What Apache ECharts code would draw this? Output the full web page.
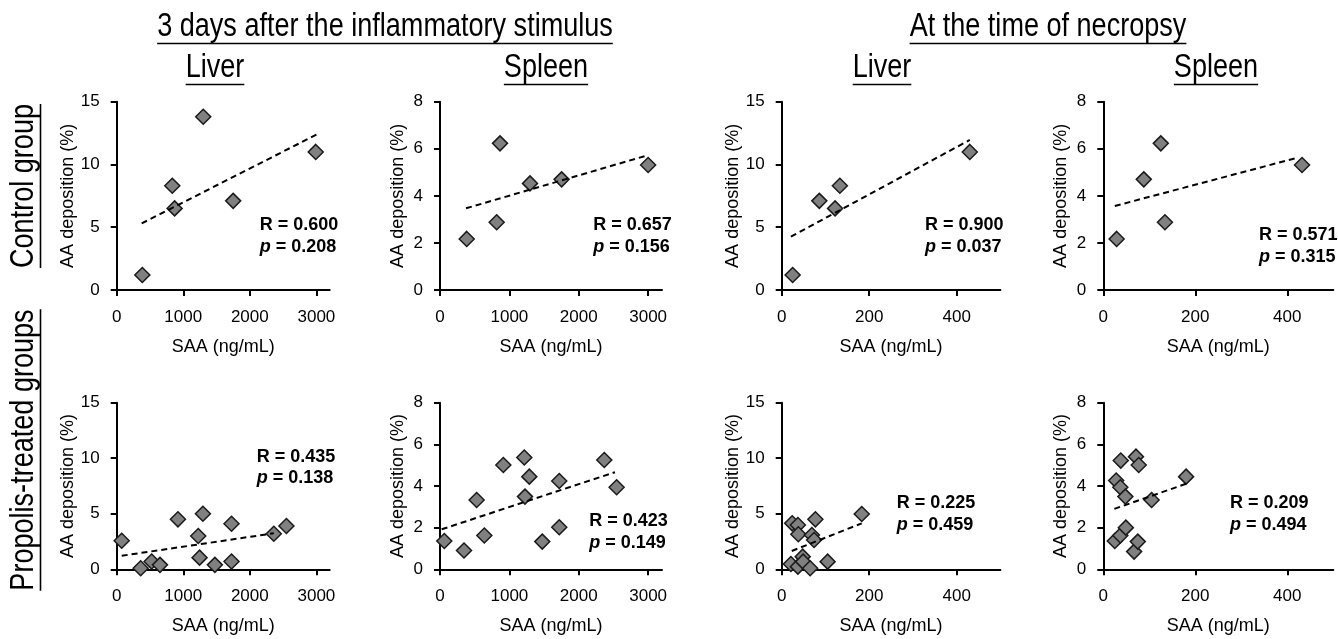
<!DOCTYPE html>
<html>
<head>
<meta charset="utf-8">
<script src="https://cdn.jsdelivr.net/npm/echarts@6/dist/echarts.min.js"></script>
<style>
  html, body { margin: 0; background: #fff; }
  #chart { width: 1338px; height: 639px; }
</style>
</head>
<body>
<div id="chart"></div>
<script>
// SAA (ng/mL) vs AA deposition (%) -- control group
const ctl3dLiverX = [385, 835, 870, 1300, 1750, 2990];
const ctl3dLiverY = [1.2, 8.3, 6.5, 13.8, 7.1, 11.0];
const ctl3dSpleenX = [385, 817, 865, 1297, 1753, 3000];
const ctl3dSpleenY = [2.17, 2.88, 6.23, 4.53, 4.7, 5.31];
const ctlNecLiverX = [25, 86, 122, 133, 430];
const ctlNecLiverY = [1.2, 7.1, 6.5, 8.3, 11.0];
const ctlNecSpleenX = [29, 88, 125, 134, 432];
const ctlNecSpleenY = [2.17, 4.7, 6.23, 2.88, 5.31];

// propolis-treated groups
const pro3dLiverX = [75, 360, 525, 650, 920, 1225, 1245, 1295, 1475, 1725, 1725, 2360, 2550];
const pro3dLiverY = [2.57, 0.1, 0.7, 0.4, 4.5, 3.0, 1.05, 5.0, 0.4, 4.1, 0.7, 3.2, 3.9];
const pro3dSpleenX = [62, 346, 528, 639, 913, 1215, 1225, 1287, 1474, 1719, 1719, 2368, 2546];
const pro3dSpleenY = [1.36, 0.9, 3.33, 1.62, 5.01, 5.37, 3.49, 4.45, 1.33, 4.24, 2.02, 5.25, 3.94];
const proNecLiverX = [24, 37, 38, 21, 37, 48, 49, 65, 69, 74, 77, 105, 183];
const proNecLiverY = [4.14, 3.99, 3.15, 0.48, 0.24, 1.14, 0.69, 0.09, 3.09, 2.64, 4.5, 0.69, 4.98];
const proNecSpleenX = [28, 38, 37, 48, 25, 37, 49, 67, 71, 77, 75, 105, 180];
const proNecSpleenY = [4.26, 5.22, 3.94, 3.49, 1.36, 1.62, 2.0, 0.85, 5.41, 5.01, 1.33, 3.33, 4.45];

// trend line end points [x1, y1, x2, y2]
const trendLines = [
  [375, 5.3, 3010, 12.4],
  [375, 3.47, 3000, 5.73],
  [21, 4.25, 430, 11.95],
  [25, 3.57, 424, 5.63],
  [75, 1.22, 2360, 3.24],
  [24, 1.92, 2522, 4.66],
  [23, 1.65, 183, 4.14],
  [24, 2.9, 183, 4.13]
];
const rValues = ['0.600', '0.657', '0.900', '0.571', '0.435', '0.423', '0.225', '0.209'];
const pValues = ['0.208', '0.156', '0.037', '0.315', '0.138', '0.149', '0.459', '0.494'];

const xTickLabels = [[0, 1000, 2000, 3000], [0, 1000, 2000, 3000], [0, 200, 400], [0, 200, 400]];
const xMax = [3200, 3200, 500, 500];
const yMax = [15, 8, 15, 8];
const yStep = [5, 2, 5, 2];

const panelsX = [ctl3dLiverX, ctl3dSpleenX, ctlNecLiverX, ctlNecSpleenX,
                 pro3dLiverX, pro3dSpleenX, proNecLiverX, proNecSpleenX];
const panelsY = [ctl3dLiverY, ctl3dSpleenY, ctlNecLiverY, ctlNecSpleenY,
                 pro3dLiverY, pro3dSpleenY, proNecLiverY, proNecSpleenY];

// layout (pixels)
const colLeft = [116.7, 440, 781.7, 1103.3];
const colWidth = [213, 222, 218.7, 230];
const rowTop = [101.7, 402.7];
const rowHeight = [188.3, 166.6];
const statPos = [[259.7, 225], [593.3, 225], [925, 225], [1259, 235],
                 [256.7, 456.7], [589.3, 521], [896.7, 503.3], [1230, 503.3]];

const FONT = '"Liberation Sans", Arial, sans-serif';
const myChart = echarts.init(document.getElementById('chart'));

const grids = [], xAxes = [], yAxes = [], series = [];
for (let i = 0; i < 8; i++) {
  const c = i % 4, r = Math.floor(i / 4);
  grids.push({
    left: colLeft[c], top: rowTop[r], width: colWidth[c], height: rowHeight[r],
    containLabel: false, outerBoundsMode: 'none'
  });
  xAxes.push({
    type: 'value', gridIndex: i, min: 0, max: xMax[c],
    name: 'SAA (ng/mL)', nameLocation: 'middle', nameGap: 48,
    nameTextStyle: { fontFamily: FONT, fontSize: 18, color: '#000' },
    axisLine: { lineStyle: { color: '#000', width: 2 } },
    axisTick: { show: true, inside: false, length: 6, lineStyle: { color: '#000', width: 2 },
                customValues: xTickLabels[c] },
    axisLabel: { fontFamily: FONT, fontSize: 17, color: '#000', margin: 19,
                 customValues: xTickLabels[c], formatter: v => String(v) },
    splitLine: { show: false }
  });
  yAxes.push({
    type: 'value', gridIndex: i, min: 0, max: yMax[c], interval: yStep[c],
    name: 'AA deposition (%)', nameLocation: 'middle', nameGap: 33,
    nameTextStyle: { fontFamily: FONT, fontSize: 18, color: '#000' },
    axisLine: { show: true, lineStyle: { color: '#000', width: 2 } },
    axisTick: { show: true, inside: false, length: 6, lineStyle: { color: '#000', width: 2 } },
    axisLabel: { fontFamily: FONT, fontSize: 17, color: '#000', margin: 17, formatter: v => String(v) },
    splitLine: { show: false }
  });
  series.push({
    type: 'scatter', xAxisIndex: i, yAxisIndex: i,
    data: panelsX[i].map((x, k) => [x, panelsY[i][k]]),
    symbol: 'diamond', symbolSize: 15,
    itemStyle: { color: '#808080', borderColor: '#1a1a1a', borderWidth: 1.5, opacity: 1 },
    emphasis: { disabled: true }, z: 2
  });
  const t = trendLines[i];
  series.push({
    type: 'line', xAxisIndex: i, yAxisIndex: i,
    data: [[t[0], t[1]], [t[2], t[3]]],
    symbol: 'none', lineStyle: { color: '#000', width: 2, type: [6, 4] },
    emphasis: { disabled: true }, z: 3, silent: true
  });
}

// underlined, condensed header text
const measure = document.createElement('canvas').getContext('2d');
function header(text, cx, cy, size, rotate) {
  measure.font = size + 'px "Liberation Sans"';
  const w = measure.measureText(text).width;
  const off = size * 0.5;
  return {
    type: 'group', x: cx, y: cy, rotation: rotate ? Math.PI / 2 : 0, scaleX: 0.82,
    children: [
      { type: 'text', style: { text: text, fontFamily: FONT, fontSize: size, fill: '#000',
                               textAlign: 'center', textVerticalAlign: 'middle' } },
      { type: 'line', shape: { x1: -w / 2, y1: off, x2: w / 2, y2: off },
        style: { stroke: '#000', lineWidth: 1.6 } }
    ]
  };
}

const graphics = [
  header('3 days after the inflammatory stimulus', 385, 27, 33),
  header('At the time of necropsy', 1048, 27, 33),
  header('Liver', 215, 68, 33),
  header('Spleen', 546, 68, 33),
  header('Liver', 882, 68, 33),
  header('Spleen', 1216, 68, 33),
  header('Control group', 24, 186, 33, true),
  header('Propolis-treated groups', 24, 450, 33, true)
];
statPos.forEach((p, i) => {
  graphics.push({ type: 'text', x: p[0], y: p[1],
    style: { text: 'R = ' + rValues[i], fontFamily: FONT, fontWeight: 'bold', fontSize: 18,
             fill: '#000', textVerticalAlign: 'middle' } });
  graphics.push({ type: 'text', x: p[0], y: p[1] + 21.7,
    style: { text: '{i|p} = ' + pValues[i], fontFamily: FONT, fontWeight: 'bold', fontSize: 18,
             fill: '#000', textVerticalAlign: 'middle',
             rich: { i: { fontFamily: FONT, fontWeight: 'bold', fontStyle: 'italic', fontSize: 18 } } } });
});

myChart.setOption({
  animation: false,
  backgroundColor: '#fff',
  grid: grids,
  xAxis: xAxes,
  yAxis: yAxes,
  series: series,
  graphic: graphics
});
window.onresize = () => {
  myChart.resize();
};
</script>
</body>
</html>
